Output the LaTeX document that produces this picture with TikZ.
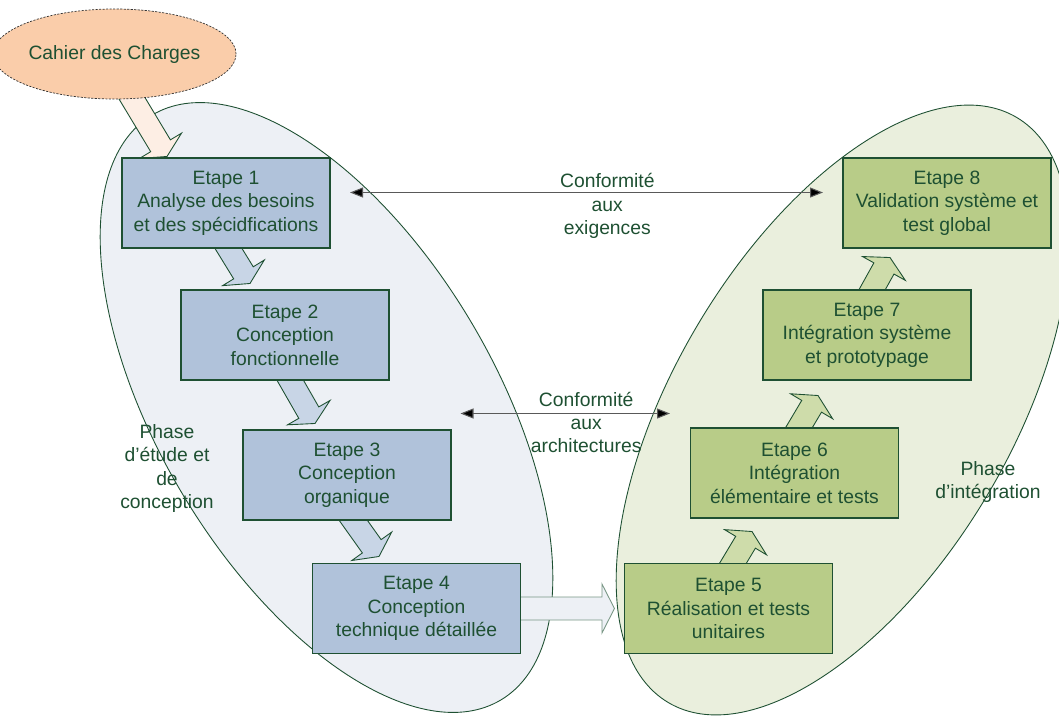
\documentclass[tikz,border=0pt]{standalone}
\usepackage{fontspec}
\setmainfont{Liberation Sans}
\usepackage{xcolor}
\usepackage{tikz}
\usetikzlibrary{arrows.meta}
\usetikzlibrary{backgrounds}
\usetikzlibrary{calc}
\usetikzlibrary{shapes,positioning}

\definecolor{vertfonce}{RGB}{30,80,50}
\definecolor{bleuetape}{RGB}{176,194,218}
\definecolor{vertetape}{RGB}{184,204,136}
\definecolor{fondbleu}{RGB}{237,240,245}
\definecolor{fondvert}{RGB}{234,239,221}
\definecolor{peche}{RGB}{250,205,170}
\definecolor{pechepale}{RGB}{253,238,228}
\definecolor{flechebleue}{RGB}{200,213,230}
\definecolor{flecheverte}{RGB}{206,220,170}

\tikzset{
  texte/.style={text=vertfonce, align=center, font=\fontsize{11}{13.3}\selectfont},
  etapebleue/.style={texte, draw=vertfonce, fill=bleuetape, line width=0.6pt,
    minimum width=4.16cm, minimum height=1.8cm, inner sep=0pt},
  etapeverte/.style={etapebleue, fill=vertetape},
  fleche/.style={draw=vertfonce, line width=0.5pt, line join=miter},
  conformite/.style={draw=black!65, line width=0.6pt,
    {Triangle[length=2.6mm,width=2mm,fill=black]}-{Triangle[length=2.6mm,width=2mm,fill=black]}}
}

% block arrow: #2 = start, #3 = tip
\newcommand{\grossefleche}[3][]{%
  \coordinate (fb) at ($(#3)!0.25cm!(#2)$);
  \path[fleche,#1] ($(#2)!0.23cm!90:(#3)$) -- ($(fb)!0.23cm!90:(#3)$)
    -- ($(fb)!0.49cm!90:(#3)$) -- (#3) -- ($(fb)!0.49cm!-90:(#3)$)
    -- ($(fb)!0.23cm!-90:(#3)$) -- ($(#2)!0.23cm!-90:(#3)$) -- cycle;}

\begin{document}
\begin{tikzpicture}
        \useasboundingbox (0,0) rectangle (21.18,-14.4);

        % Cahier des charges
        \node[texte, ellipse, draw=black!80, dash pattern=on 1.2pt off 0.8pt, fill=peche,
              minimum width=4.18cm, minimum height=1.8cm, inner sep=0pt] (cahier) at (2.29,-1.08) {Cahier des Charges};

        % Etapes de la phase d'etude
        \node[etapebleue] (e1) at (4.52,-4.06) {Etape 1\\Analyse des besoins\\et des spécidfications};
        \node[etapebleue] (e2) at (5.70,-6.70) {Etape 2\\Conception\\fonctionnelle};
        \node[etapebleue] (e3) at (6.94,-9.50) {Etape 3\\Conception\\organique};
        \node[etapebleue] (e4) at (8.33,-12.17) {Etape 4\\Conception\\technique détaillée};

        % Etapes de la phase d'integration
        \node[etapeverte] (e5) at (14.57,-12.17) {Etape 5\\Réalisation et tests\\unitaires};
        \node[etapeverte] (e6) at (15.89,-9.46) {Etape 6\\Intégration\\élémentaire et tests};
        \node[etapeverte] (e7) at (17.34,-6.70) {Etape 7\\Intégration système\\et prototypage};
        \node[etapeverte] (e8) at (18.94,-4.06) {Etape 8\\Validation système et\\test global};

        % Phases
        \node[texte] (phaseetude) at (3.34,-9.37) {Phase\\d’étude et\\de\\conception};
        \node[texte] (phaseinteg) at (19.76,-9.64) {Phase\\d’intégration};

        % Conformite
        \coordinate (exg) at (7.00,-3.85);
        \coordinate (exd) at (16.46,-3.85);
        \coordinate (arg) at (9.21,-8.27);
        \coordinate (ard) at (13.40,-8.27);
        \draw[conformite] (exg) -- (exd) node[texte, pos=0.544, yshift=-0.27cm] (lblexig) {Conformité\\aux\\exigences};
        \draw[conformite] (arg) -- (ard) node[texte, pos=0.60, yshift=-0.18cm] (lblarch) {Conformité\\aux\\architectures};

        \begin{scope}[on background layer]
        % Ellipses des phases
        \draw[vertfonce, fill=fondbleu, line width=0.5pt, rotate around={-59.2:(6.53,-8.15)}] (6.53,-8.15) ellipse (6.81 and 3.36);
        \draw[vertfonce, fill=fondvert, line width=0.5pt, rotate around={59.2:(16.85,-8.20)}] (16.85,-8.20) ellipse (6.81 and 3.36);

        % Fleches
        \grossefleche[fill=pechepale]{$(cahier.south)+(0.17,0.32)$}{$(e1.north)+(-1.18,0.02)$}
        \grossefleche[fill=flechebleue]{$(e1.south)+(-0.06,0.18)$}{$(e2.north)+(-0.70,0.12)$}
        \grossefleche[fill=flechebleue]{$(e2.south)+(0.01,0.17)$}{$(e3.north)+(-0.64,0.12)$}
        \grossefleche[fill=flechebleue]{$(e3.south)+(0.00,0.18)$}{$(e4.north)+(-0.75,0.13)$}
        \grossefleche[fill=fondbleu, draw=vertfonce!60]{$(e4.east)+(-0.10,0)$}{$(e5.west)+(-0.19,0)$}
        \grossefleche[fill=flecheverte]{$(e5.north)+(-0.01,-0.17)$}{$(e6.south)+(-0.85,-0.26)$}
        \grossefleche[fill=flecheverte]{$(e6.north)+(-0.01,-0.17)$}{$(e7.south)+(-0.98,-0.30)$}
        \grossefleche[fill=flecheverte]{$(e7.north)+(0.01,-0.17)$}{$(e8.south)+(-1.14,-0.18)$}
        \end{scope}
    \end{tikzpicture}
\end{document}
